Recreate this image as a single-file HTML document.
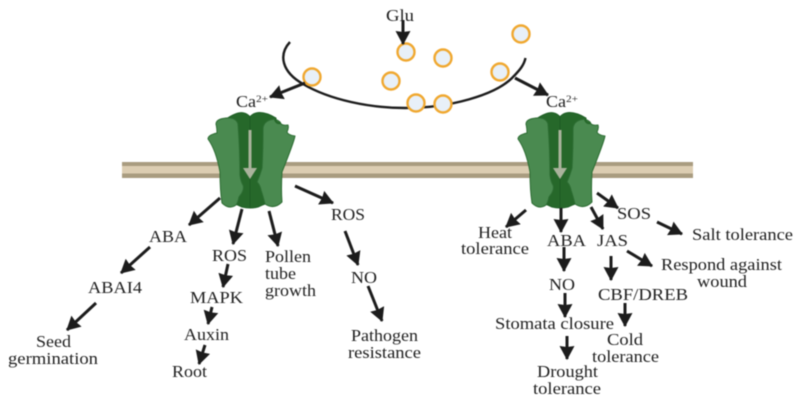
<!DOCTYPE html>
<html>
<head>
<meta charset="utf-8">
<style>
html,body{margin:0;padding:0;background:#fff;width:799px;height:401px;overflow:hidden}
svg{display:block;filter:blur(.5px)}
text{font-family:"Liberation Serif",serif;font-size:17px;fill:#1f1f1f}
.a line{stroke:#1c1c1c;stroke-width:3;marker-end:url(#h)}
</style>
</head>
<body>
<svg width="799" height="401" viewBox="0 0 799 401" xmlns="http://www.w3.org/2000/svg">
<defs>
<marker id="h" markerUnits="userSpaceOnUse" markerWidth="16" markerHeight="17" refX="13" refY="8" orient="auto">
<path d="M0 0.5L14 8L0 15.5L1 8z" fill="#1c1c1c"/>
</marker>
<g id="ch">
<path d="M226 119Q238 111 244 113Q248 114 250 117Q252 114 256 113Q264 111 276 118L279 200Q266 203 258 207Q250 209 242 207Q234 203 222 200z" fill="#26682a" stroke="#1f5f26" stroke-width="1"/>
<path d="M250 117V207" stroke="#1d5a24" stroke-width="1"/>
<path d="M216 124Q216 119 226 118Q236 117 238 124Q240 150 240 175Q241 182 243 185Q245 190 239 197Q238 203 236 205Q229 210 222 203Q220 190 220 172Q216 150 208 139Q208 135 217 133Q217 128 216 124z" fill="#4a8a50" stroke="#2c6c32" stroke-width="1" stroke-linejoin="round"/>
<path d="M263 128Q264 120 275 119Q279 121 280 122Q281 126 288 125Q289 128 287 132Q288 135 295 136Q294 142 282 172Q281 190 282 202Q274 210 265 204Q263 196 261 190Q260 185 257 182Q260 175 262 168Q263 150 263 128z" fill="#4a8a50" stroke="#2c6c32" stroke-width="1" stroke-linejoin="round"/>
<path d="M275 119Q276 124 281 123" fill="none" stroke="#26682a" stroke-width="2"/>
<path d="M250 130V168" stroke="#aab39c" stroke-width="3"/>
<path d="M243 168H257L250 179z" fill="#aab39c"/>
</g>
</defs>

<!-- membrane -->
<rect x="122" y="162" width="571" height="16" fill="#a99c80"/>
<rect x="122" y="166" width="571" height="7.5" fill="#dccdb2"/>

<use href="#ch"/>
<use href="#ch" x="310"/>

<!-- vesicle arc -->
<path d="M290 42C278 55 282 72 303 84C330 100 370 108 405 108C450 108 495 95 512 78C520 70 524 65 525.5 58" fill="none" stroke="#1c1c1c" stroke-width="2.4"/>

<g fill="#e8f0f8" stroke="#f0a830" stroke-width="2.4">
<circle cx="406" cy="52" r="8.5"/>
<circle cx="443" cy="58" r="8.5"/>
<circle cx="521" cy="34" r="8.5"/>
<circle cx="500" cy="72" r="8.5"/>
<circle cx="391" cy="81" r="8.5"/>
<circle cx="312" cy="77" r="8.5"/>
<circle cx="416" cy="103" r="8.5"/>
<circle cx="443" cy="104" r="8.5"/>
</g>

<!-- arrows -->
<g class="a">
<line x1="403" y1="20" x2="403" y2="44"/>
<line x1="305" y1="83" x2="270" y2="97"/>
<line x1="515" y1="78" x2="548" y2="95"/>
<line x1="220" y1="198" x2="189" y2="225"/>
<line x1="150" y1="247" x2="121" y2="273"/>
<line x1="96" y1="303" x2="67" y2="330"/>
<line x1="242" y1="209" x2="233" y2="244"/>
<line x1="269" y1="211" x2="278" y2="246"/>
<line x1="295" y1="186" x2="333" y2="203"/>
<line x1="345" y1="231" x2="358" y2="265"/>
<line x1="368" y1="286" x2="382" y2="321"/>
<line x1="228" y1="264" x2="223" y2="287"/>
<line x1="212" y1="307" x2="208" y2="324"/>
<line x1="205" y1="345" x2="199" y2="364"/>
<line x1="526" y1="210" x2="506" y2="227"/>
<line x1="561" y1="208" x2="561" y2="232"/>
<line x1="591" y1="207" x2="603" y2="229"/>
<line x1="597" y1="193" x2="618" y2="208"/>
<line x1="657" y1="222" x2="682" y2="234"/>
<line x1="627" y1="251" x2="652" y2="266"/>
<line x1="564" y1="247" x2="564" y2="271"/>
<line x1="611" y1="256" x2="611" y2="280"/>
<line x1="565" y1="293" x2="565" y2="317"/>
<line x1="625" y1="303" x2="625" y2="326"/>
<line x1="567" y1="336" x2="567" y2="359"/>
</g>

<!-- labels -->
<g>
<text x="386" y="21" textLength="28" lengthAdjust="spacingAndGlyphs">Glu</text>
<text x="236" y="107" textLength="20" lengthAdjust="spacingAndGlyphs">Ca</text>
<text x="256" y="102" textLength="12" lengthAdjust="spacingAndGlyphs" style="font-size:9px">2+</text>
<text x="546" y="107" textLength="20" lengthAdjust="spacingAndGlyphs">Ca</text>
<text x="566" y="102" textLength="12" lengthAdjust="spacingAndGlyphs" style="font-size:9px">2+</text>

<text x="149" y="242" textLength="38" lengthAdjust="spacingAndGlyphs">ABA</text>
<text x="88" y="293" textLength="54" lengthAdjust="spacingAndGlyphs">ABAI4</text>
<text x="36" y="347" textLength="35" lengthAdjust="spacingAndGlyphs">Seed</text>
<text x="8" y="364" textLength="90" lengthAdjust="spacingAndGlyphs">germination</text>
<text x="212" y="261" textLength="35" lengthAdjust="spacingAndGlyphs">ROS</text>
<text x="190" y="303" textLength="53" lengthAdjust="spacingAndGlyphs">MAPK</text>
<text x="184" y="340" textLength="45" lengthAdjust="spacingAndGlyphs">Auxin</text>
<text x="172" y="377" textLength="35" lengthAdjust="spacingAndGlyphs">Root</text>
<text x="265" y="262" textLength="46" lengthAdjust="spacingAndGlyphs">Pollen</text>
<text x="265" y="279" textLength="31" lengthAdjust="spacingAndGlyphs">tube</text>
<text x="265" y="296" textLength="51" lengthAdjust="spacingAndGlyphs">growth</text>
<text x="331" y="220" textLength="34" lengthAdjust="spacingAndGlyphs">ROS</text>
<text x="351" y="283" textLength="26" lengthAdjust="spacingAndGlyphs">NO</text>
<text x="351" y="341" textLength="67" lengthAdjust="spacingAndGlyphs">Pathogen</text>
<text x="348" y="358" textLength="73" lengthAdjust="spacingAndGlyphs">resistance</text>

<text x="478" y="238" textLength="34" lengthAdjust="spacingAndGlyphs">Heat</text>
<text x="461" y="254" textLength="68" lengthAdjust="spacingAndGlyphs">tolerance</text>
<text x="547" y="246" textLength="39" lengthAdjust="spacingAndGlyphs">ABA</text>
<text x="597" y="246" textLength="31" lengthAdjust="spacingAndGlyphs">JAS</text>
<text x="617" y="219" textLength="34" lengthAdjust="spacingAndGlyphs">SOS</text>
<text x="692" y="240" textLength="101" lengthAdjust="spacingAndGlyphs">Salt tolerance</text>
<text x="661" y="270" textLength="121" lengthAdjust="spacingAndGlyphs">Respond against</text>
<text x="697" y="287" textLength="50" lengthAdjust="spacingAndGlyphs">wound</text>
<text x="549" y="290" textLength="26" lengthAdjust="spacingAndGlyphs">NO</text>
<text x="598" y="300" textLength="90" lengthAdjust="spacingAndGlyphs">CBF/DREB</text>
<text x="495" y="329" textLength="119" lengthAdjust="spacingAndGlyphs">Stomata closure</text>
<text x="607" y="345" textLength="36" lengthAdjust="spacingAndGlyphs">Cold</text>
<text x="592" y="362" textLength="67" lengthAdjust="spacingAndGlyphs">tolerance</text>
<text x="537" y="377" textLength="61" lengthAdjust="spacingAndGlyphs">Drought</text>
<text x="533" y="394" textLength="68" lengthAdjust="spacingAndGlyphs">tolerance</text>
</g>
</svg>
</body>
</html>
